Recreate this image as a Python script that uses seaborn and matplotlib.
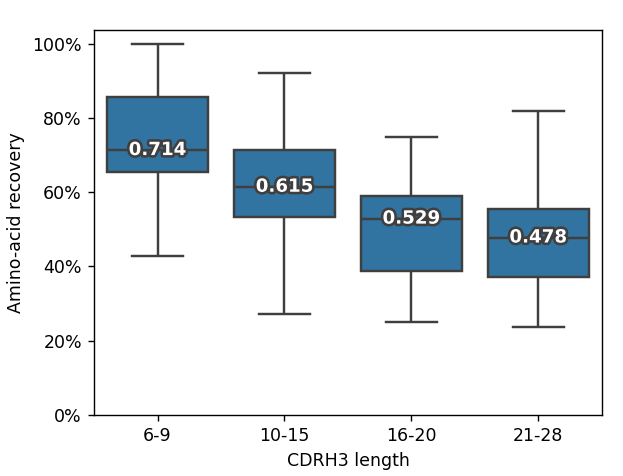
import matplotlib
matplotlib.use("Agg")
import matplotlib.pyplot as plt
import matplotlib.patheffects as pe
from matplotlib.ticker import PercentFormatter
import numpy as np
import pandas as pd
import seaborn as sns

# CDRH3 길이 구간
groups = ["6-9", "10-15", "16-20", "21-28"]

# 구간별 5개 값 (최소, Q1, 중앙값, Q3, 최대) - 그림에서 읽은 값
recovery_6_9 = [0.428, 0.656, 0.714, 0.856, 1.000]
recovery_10_15 = [0.272, 0.533, 0.615, 0.715, 0.923]
recovery_16_20 = [0.251, 0.388, 0.529, 0.589, 0.750]
recovery_21_28 = [0.237, 0.371, 0.478, 0.555, 0.819]

values = [recovery_6_9, recovery_10_15, recovery_16_20, recovery_21_28]
df = pd.DataFrame(
    [(g, v) for g, vals in zip(groups, values) for v in vals],
    columns=["CDRH3 length", "Amino-acid recovery"],
)

# 125 dpi 기준으로 전체 크기 맞춤
fig, ax = plt.subplots(figsize=(623 / 125, 476 / 125), dpi=125)
fig.subplots_adjust(left=0.151, right=0.966, top=0.937, bottom=0.129)

sns.boxplot(
    data=df,
    x="CDRH3 length",
    y="Amino-acid recovery",
    order=groups,
    whis=(0, 100),
    showfliers=False,
    linewidth=1.4,
    ax=ax,
)

# 중앙값 라벨 (흰 글씨 + 테두리)
medians = df.groupby("CDRH3 length")["Amino-acid recovery"].median().reindex(groups)
for i, m in enumerate(medians):
    ax.text(
        i, m, f"{m:.3f}",
        ha="center", va="center",
        color="white", fontsize=10.5, fontweight="bold",
        path_effects=[pe.withStroke(linewidth=3, foreground="#3f3f3f")],
    )

ax.set_ylim(bottom=0)
ax.yaxis.set_major_formatter(PercentFormatter(1.0, decimals=0))
ax.set_xlabel("CDRH3 length")
ax.set_ylabel("Amino-acid recovery")

fig.savefig("out.png", dpi=125)
